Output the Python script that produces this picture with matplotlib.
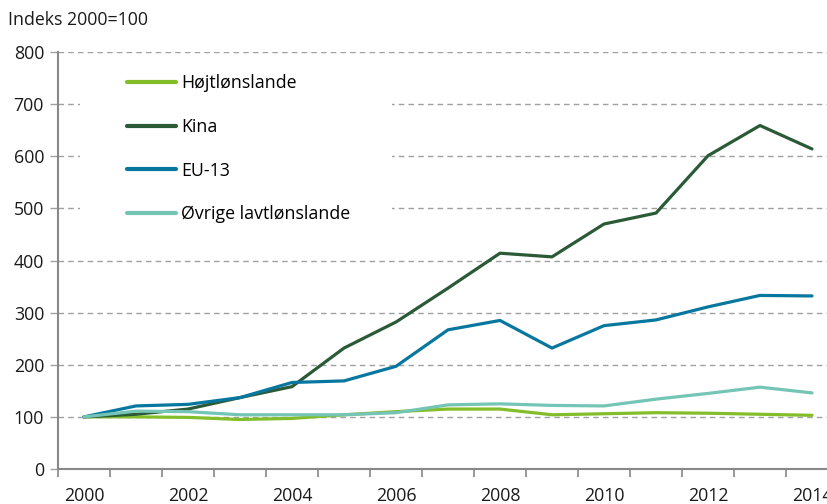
import numpy as np
import matplotlib.pyplot as plt
from matplotlib.patches import Rectangle

plt.rcParams['font.family'] = ['Open Sans', 'DejaVu Sans']

# === Data ===
years = list(range(2000, 2015))
hojtlon = [100, 100, 99, 95, 97, 104, 110, 115, 115, 104, 106, 108, 107, 105, 103]
kina = [100, 105, 115, 137, 158, 232, 282, 347, 414, 407, 470, 491, 601, 659, 614]
eu13 = [100, 121, 124, 137, 166, 169, 197, 267, 285, 232, 275, 286, 311, 333, 332]
ovrige = [100, 111, 110, 104, 104, 104, 108, 123, 125, 122, 121, 134, 145, 157, 146]

series = [
    ("Højtlønslande", hojtlon, "#84bd2a"),
    ("Kina", kina, "#2b5a37"),
    ("EU-13", eu13, "#0877a0"),
    ("Øvrige lavtlønslande", ovrige, "#74c5b6"),
]

W, H = 828, 504
FS = 12.8
fig = plt.figure(figsize=(W / 100, H / 100), dpi=100)
ax = fig.add_axes([58 / W, 1 - 469 / H, (838 - 58) / W, (469 - 52) / H])

x = np.arange(len(years))
for label, vals, col in series:
    ax.plot(x, vals, color=col, lw=2.3, label=label, zorder=3,
            solid_capstyle='round', solid_joinstyle='round')

ax.set_xlim(-0.5, len(years) - 0.5)
ax.set_ylim(0, 800)
ax.set_yticks(range(0, 801, 100))
ax.set_axisbelow(True)
ax.yaxis.grid(True, color='#a0a0a0', linestyle=(0, (4, 3)), lw=1.0)

# category ticks at band edges, labels at centres (every other year)
ax.set_xticks(np.arange(-0.5, len(years), 1))
ax.set_xticklabels([])
ax.set_xticks(x[::2], minor=True)
ax.set_xticklabels([str(y) for y in years[::2]], minor=True)
ax.tick_params(axis='x', which='major', length=6, color='#888888', width=1.2)
ax.tick_params(axis='x', which='minor', length=0, pad=13, labelsize=FS, labelcolor='#1a1a1a')
ax.tick_params(axis='y', length=6, color='#a0a0a0', width=1.0, labelsize=FS,
               labelcolor='#1a1a1a', pad=4)

for s in ['top', 'right']:
    ax.spines[s].set_visible(False)
for s in ['left', 'bottom']:
    ax.spines[s].set_color('#888888')
    ax.spines[s].set_linewidth(1.5)

# white box behind the legend hides the gridlines
box = Rectangle((80 / W, 1 - 232 / H), (392 - 80) / W, (232 - 58) / H,
                transform=fig.transFigure, facecolor='white', edgecolor='none', zorder=2)
ax.add_artist(box)

leg = ax.legend(loc='upper left', bbox_to_anchor=(127 / W, 1 - 74 / H),
                bbox_transform=fig.transFigure, frameon=False, fontsize=FS,
                handlelength=2.75, handletextpad=0.3, labelspacing=1.45,
                borderpad=0, borderaxespad=0)
for h in leg.get_lines():
    h.set_linewidth(3.0)
    h.set_solid_capstyle('round')
leg.set_zorder(4)

fig.text(8 / W, 1 - 20 / H, "Indeks 2000=100", fontsize=FS, color='#1a1a1a',
         va='center', ha='left')

fig.savefig("out.png", dpi=100)
